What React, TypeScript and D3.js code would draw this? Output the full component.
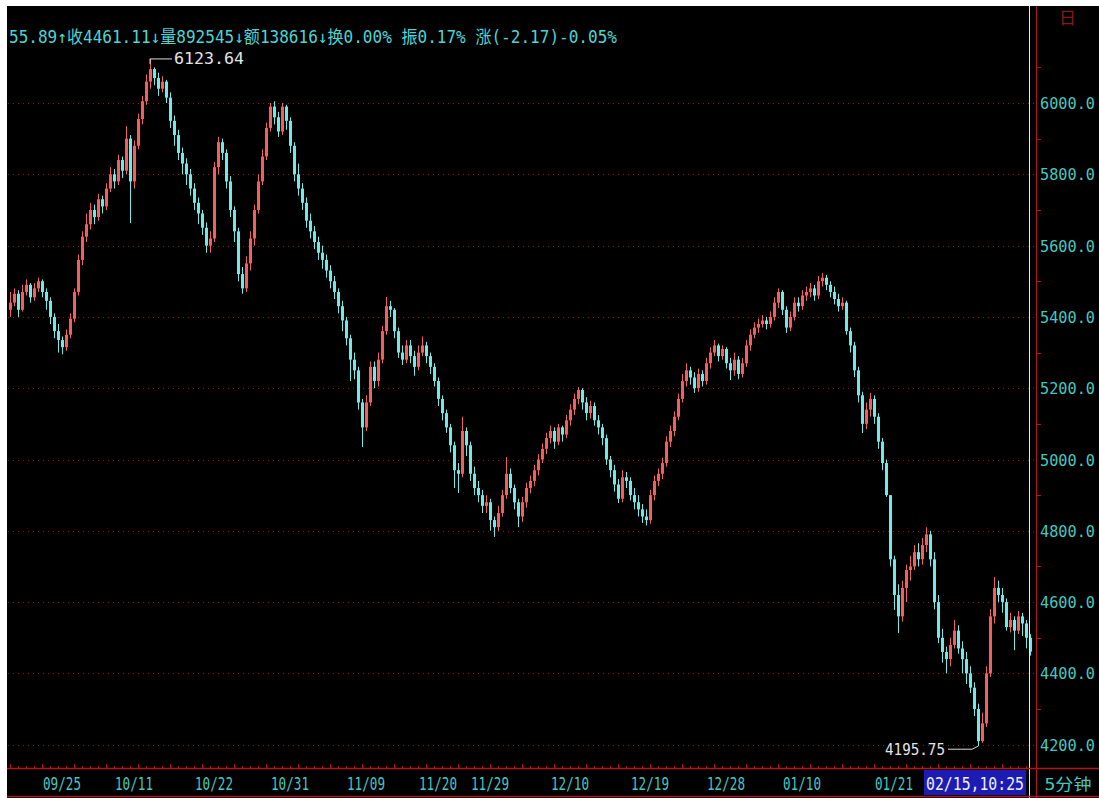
import * as d3 from "d3";

const W = 1099;
const H = 798;

// 5-minute bars, open of each bar = previous close
const firstOpen = 5420;
const closes = [
  5440, 5465, 5420, 5470, 5490, 5455, 5480, 5500, 5470, 5445,
  5400, 5360, 5335, 5315, 5350, 5395, 5470, 5560, 5625, 5660,
  5700, 5680, 5730, 5710, 5760, 5800, 5780, 5840, 5810, 5900,
  5780, 5880, 5955, 6005, 6060, 6095, 6070, 6040, 6060, 6015,
  5950, 5910, 5860, 5830, 5800, 5760, 5720, 5690, 5650, 5600,
  5620, 5820, 5890, 5860, 5780, 5700, 5640, 5520, 5480, 5550,
  5620, 5700, 5780, 5850, 5930, 5990, 5960, 5920, 5990, 5950,
  5880, 5800, 5760, 5720, 5670, 5640, 5610, 5580, 5560, 5530,
  5500, 5470, 5430, 5390, 5340, 5280, 5250, 5160, 5090, 5160,
  5260, 5220, 5280, 5360, 5430, 5420, 5360, 5300, 5280, 5320,
  5290, 5260, 5300, 5320, 5290, 5260, 5220, 5170, 5130, 5090,
  5040, 4970, 4960, 5080, 5040, 4960, 4920, 4900, 4870, 4880,
  4830, 4810, 4850, 4900, 4960, 4920, 4880, 4840, 4880, 4920,
  4940, 4970, 5000, 5030, 5060, 5080, 5050, 5090, 5070, 5110,
  5140, 5170, 5195, 5160, 5130, 5150, 5110, 5090, 5060, 5000,
  4970, 4930, 4890, 4950, 4940, 4900, 4880, 4860, 4840, 4830,
  4900, 4940, 4960, 4990, 5050, 5080, 5120, 5170, 5220, 5250,
  5230, 5200, 5240, 5220, 5270, 5300, 5320, 5290, 5310, 5270,
  5250, 5280, 5240, 5270, 5320, 5350, 5370, 5380, 5390, 5380,
  5400, 5440, 5470, 5420, 5370, 5400, 5440, 5430, 5460, 5470,
  5480, 5460, 5500, 5510, 5490, 5470, 5450, 5430, 5440, 5360,
  5320, 5250, 5180, 5100, 5140, 5170, 5120, 5050, 4990, 4900,
  4720, 4620, 4560, 4640, 4690, 4700, 4740, 4720, 4760, 4790,
  4720, 4600, 4500, 4460, 4440, 4480, 4520, 4470, 4440, 4400,
  4360, 4300, 4210, 4260, 4400, 4560, 4640, 4620, 4600, 4530,
  4550, 4520, 4560, 4540, 4500, 4461.11,
];
const highs = [
  5470, 5480, 5475, 5490, 5505, 5495, 5495, 5510, 5505, 5480,
  5455, 5410, 5380, 5345, 5365, 5410, 5480, 5575, 5640, 5690,
  5720, 5715, 5745, 5740, 5775, 5820, 5815, 5855, 5850, 5935,
  5910, 5895, 5970, 6020, 6080, 6123.64, 6100, 6085, 6075, 6065,
  6030, 5965, 5925, 5875, 5845, 5815, 5775, 5735, 5700, 5665,
  5640, 5835, 5905, 5900, 5870, 5795, 5710, 5650, 5540, 5570,
  5640, 5715, 5800, 5870, 5945, 6000, 6005, 5975, 6000, 5995,
  5960, 5890, 5830, 5775, 5735, 5690, 5655, 5625, 5600, 5575,
  5545, 5515, 5480, 5445, 5400, 5350, 5300, 5260, 5170, 5180,
  5275, 5275, 5300, 5375, 5456, 5445, 5425, 5370, 5320, 5335,
  5335, 5305, 5320, 5345, 5330, 5300, 5270, 5230, 5180, 5140,
  5100, 5050, 4990, 5120, 5090, 5050, 4980, 4940, 4915, 4900,
  4890, 4840, 4870, 4915, 5007, 4975, 4930, 4890, 4895, 4935,
  4955, 4985, 5015, 5045, 5075, 5095, 5090, 5100, 5095, 5125,
  5155, 5185, 5203, 5200, 5175, 5165, 5160, 5125, 5100, 5070,
  5010, 4985, 4945, 4970, 4965, 4950, 4920, 4900, 4875, 4860,
  4915, 4955, 4975, 5005, 5065, 5095, 5135, 5185, 5240, 5270,
  5260, 5245, 5255, 5250, 5285, 5315, 5335, 5325, 5320, 5315,
  5285, 5300, 5290, 5285, 5335, 5365, 5385, 5395, 5405, 5400,
  5415, 5455, 5480, 5475, 5430, 5415, 5455, 5455, 5475, 5485,
  5495, 5490, 5515, 5523, 5518, 5500, 5485, 5465, 5455, 5445,
  5370, 5330, 5260, 5190, 5160, 5187, 5180, 5130, 5060, 5000,
  4810, 4730, 4650, 4660, 4705, 4730, 4760, 4765, 4780, 4810,
  4800, 4740, 4620, 4525, 4475, 4500, 4550, 4535, 4490, 4460,
  4420, 4375, 4315, 4290, 4420, 4580, 4670, 4660, 4640, 4610,
  4570, 4560, 4575, 4570, 4550, 4510,
];
const lows = [
  5400, 5430, 5400, 5415, 5460, 5440, 5445, 5470, 5455, 5420,
  5380, 5340, 5300, 5295, 5305, 5340, 5385, 5460, 5545, 5610,
  5645, 5660, 5670, 5690, 5700, 5750, 5760, 5770, 5790, 5800,
  5663, 5760, 5870, 5940, 5995, 6040, 6050, 6020, 6030, 6000,
  5930, 5880, 5840, 5800, 5770, 5740, 5700, 5660, 5630, 5580,
  5580, 5610, 5800, 5840, 5760, 5680, 5610, 5500, 5465, 5470,
  5530, 5600, 5690, 5770, 5840, 5920, 5940, 5905, 5910, 5925,
  5860, 5780, 5740, 5700, 5650, 5620, 5590, 5560, 5535, 5510,
  5480, 5450, 5410, 5360, 5320, 5220, 5225, 5140, 5035, 5080,
  5150, 5200, 5205, 5270, 5350, 5400, 5340, 5285, 5265, 5270,
  5270, 5235, 5250, 5290, 5270, 5240, 5205, 5150, 5110, 5075,
  5020, 4920, 4906, 4950, 5010, 4940, 4900, 4880, 4850, 4850,
  4800, 4783, 4800, 4840, 4890, 4905, 4860, 4810, 4825, 4865,
  4905, 4925, 4955, 4990, 5015, 5045, 5030, 5040, 5050, 5060,
  5095, 5125, 5155, 5140, 5110, 5115, 5095, 5070, 5040, 4985,
  4950, 4910, 4878, 4880, 4920, 4885, 4860, 4840, 4822, 4815,
  4820, 4885, 4925, 4945, 4980, 5035, 5065, 5110, 5160, 5205,
  5210, 5187, 5190, 5205, 5210, 5255, 5290, 5275, 5280, 5255,
  5223, 5235, 5225, 5230, 5260, 5305, 5340, 5355, 5370, 5365,
  5370, 5390, 5425, 5405, 5355, 5360, 5390, 5415, 5420, 5445,
  5455, 5445, 5450, 5485, 5475, 5455, 5435, 5415, 5420, 5350,
  5300, 5231, 5160, 5074, 5085, 5120, 5100, 5030, 4970, 4895,
  4700, 4578, 4513, 4545, 4600, 4660, 4690, 4700, 4705, 4740,
  4700, 4580, 4485, 4430, 4400, 4420, 4470, 4455, 4400, 4370,
  4345, 4280, 4195.75, 4205, 4250, 4390, 4540, 4600, 4570, 4520,
  4515, 4465, 4510, 4505, 4470, 4450,
];

const priceTicks = [4200, 4400, 4600, 4800, 5000, 5200, 5400, 5600, 5800, 6000];
const minorTicks = [4300, 4500, 4700, 4900, 5100, 5300, 5500, 5700, 5900, 6100];
const dateLabels = ["09/25", "10/11", "10/22", "10/31", "11/09", "11/20", "11/29", "12/10", "12/19", "12/28", "01/10", "01/21"];
const dateBars = [13, 31, 51, 70, 89, 107, 120, 140, 160, 179, 198, 221];
const cursorLabel = "02/15,10:25";
const periodLabel = "5分钟";
const headerText = "55.89↑收4461.11↓量892545↓额138616↓换0.00% 振0.17% 涨(-2.17)-0.05%";

const UP = "#f0605e";
const DOWN = "#74e8e6";
const GRID = "#8a1818";
const AXIS = "#b01818";
const LABEL = "#46c8c0";
const FONT = "'DejaVu Sans Mono', 'Noto Sans CJK SC', monospace";

export default function App() {
  const n = closes.length;
  const x = d3.scaleBand<number>().domain(d3.range(n)).range([8, 1032]);
  const y = d3.scaleLinear().domain([4200, 6000]).range([744.7, 103]);
  const bw = x.bandwidth();

  const candles = closes.map((c, i) => {
    const o = i === 0 ? firstOpen : closes[i - 1];
    const h = Math.max(highs[i], o, c);
    const l = Math.min(lows[i], o, c);
    return { i, o, c, h, l, up: c >= o };
  });

  const iMax = d3.maxIndex(highs);
  const iMin = d3.minIndex(lows);
  const cx = (i: number) => (x(i) ?? 0) + bw / 2;

  const xTicks = d3.range(0, n, 2);

  return (
    <div style={{ position: "fixed", left: 0, top: 0, width: W, height: H, background: "#fff" }}>
      <svg width={W} height={H} style={{ display: "block" }}>
        <rect x={7} y={6} width={W - 7} height={H - 6} fill="#000" />

        {/* title remnant at top right */}
        <text x={1059} y={24} fill="#8a1a1a" fontSize={17} fontFamily="'Noto Sans CJK SC'">日</text>

        {/* horizontal dotted grid */}
        {priceTicks.map((v) => (
          <line key={v} x1={8} x2={1036} y1={Math.round(y(v)) + 0.5} y2={Math.round(y(v)) + 0.5}
            stroke={GRID} strokeDasharray="1 4" />
        ))}

        {/* candles */}
        {candles.map((d) => {
          const col = d.up ? UP : DOWN;
          const mx = Math.round(cx(d.i));
          const top = y(Math.max(d.o, d.c));
          const bot = y(Math.min(d.o, d.c));
          return (
            <g key={d.i}>
              <line x1={mx + 0.5} x2={mx + 0.5} y1={y(d.h)} y2={y(d.l)} stroke={col} strokeWidth={1} />
              <rect x={mx - 1} y={top} width={3} height={Math.max(1, bot - top)} fill={col} />
            </g>
          );
        })}

        {/* max / min marks */}
        <path d={`M${cx(iMax)},${y(highs[iMax]) + 5}V${y(highs[iMax])}H${cx(iMax) + 22}`}
          fill="none" stroke="#ddd" strokeWidth={1} />
        <text x={cx(iMax) + 24} y={y(highs[iMax]) + 5} fill="#e4e4e4" fontSize={16} fontFamily={FONT}
          textLength={70} lengthAdjust="spacingAndGlyphs">{highs[iMax].toFixed(2)}</text>
        <path d={`M${cx(iMin) - 30},${y(lows[iMin]) + 3}H${cx(iMin) - 6}L${cx(iMin)},${y(lows[iMin])}`}
          fill="none" stroke="#ddd" strokeWidth={1} />
        <text x={cx(iMin) - 33} y={y(lows[iMin]) + 9} fill="#e4e4e4" fontSize={16} fontFamily={FONT}
          textAnchor="end" textLength={60} lengthAdjust="spacingAndGlyphs">{lows[iMin].toFixed(2)}</text>

        {/* header */}
        <text x={9} y={43} fontSize={17} fill="#4fd4d4" fontFamily={FONT} textLength={608}
          lengthAdjust="spacingAndGlyphs">{headerText}</text>

        {/* right axis */}
        <line x1={1029.5} x2={1029.5} y1={6} y2={H} stroke="#e8e8e8" />
        <line x1={1036.5} x2={1036.5} y1={6} y2={H} stroke={AXIS} />
        {minorTicks.map((v) => (
          <line key={v} x1={1037} x2={1041} y1={Math.round(y(v)) + 0.5} y2={Math.round(y(v)) + 0.5} stroke={AXIS} />
        ))}
        {priceTicks.map((v) => (
          <text key={v} x={1040} y={y(v) + 6} fill={LABEL} fontSize={16} fontFamily={FONT}
            textLength={55} lengthAdjust="spacingAndGlyphs">{v.toFixed(1)}</text>
        ))}

        {/* bottom axis */}
        <line x1={7} x2={W} y1={768.5} y2={768.5} stroke={AXIS} strokeWidth={1.5} />
        <line x1={7} x2={W} y1={796.5} y2={796.5} stroke={AXIS} strokeWidth={1.5} />
        {xTicks.map((i) => (
          <line key={i} x1={Math.round(cx(i)) + 0.5} x2={Math.round(cx(i)) + 0.5}
            y1={i % 8 === 0 ? 764 : 766} y2={768} stroke={AXIS} />
        ))}
        {dateLabels.map((s, k) => (
          <text key={s} x={cx(dateBars[k])} y={790} fill={LABEL} fontSize={18} fontFamily={FONT}
            textAnchor="middle" textLength={38} lengthAdjust="spacingAndGlyphs">{s}</text>
        ))}
        <rect x={924} y={770} width={102} height={25} fill="#1c1cb4" />
        <text x={975} y={790} fill="#f0f0ff" fontSize={18} fontFamily={FONT} textAnchor="middle"
          textLength={98} lengthAdjust="spacingAndGlyphs">{cursorLabel}</text>
        <text x={1068} y={790} fill={LABEL} fontSize={16} fontFamily={FONT} textAnchor="middle"
          textLength={47} lengthAdjust="spacingAndGlyphs">{periodLabel}</text>
      </svg>
    </div>
  );
}
